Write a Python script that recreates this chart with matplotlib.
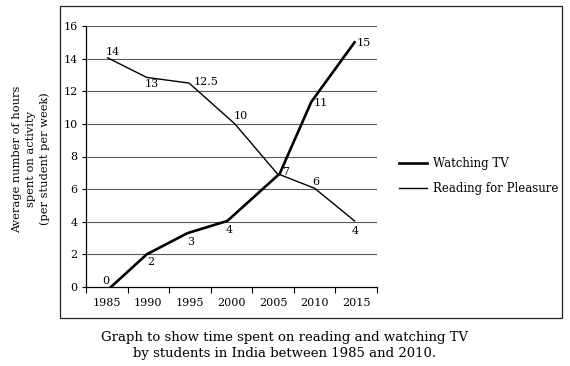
import matplotlib
matplotlib.use("Agg")
import matplotlib.pyplot as plt
from matplotlib.patches import Rectangle

years = [1985, 1990, 1995, 2000, 2005, 2010, 2015]
tv_x = [1985.5, 1989.8, 1994.7, 1999.5, 2005.8, 2009.6, 2014.8]
tv_values = [0, 2, 3.3, 4.05, 6.95, 11.35, 15]
tv_labels = ["0", "2", "3", "4", "7", "11", "15"]
read_x = [1985.1, 1989.8, 1994.9, 2000.4, 2005.5, 2010.0, 2014.8]
read_values = [14.05, 12.85, 12.5, 10.0, 6.95, 6.05, 4.05]
read_labels = ["14", "13", "12.5", "10", "", "6", "4"]
yticks = [0, 2, 4, 6, 8, 10, 12, 14, 16]

plt.rcParams['font.family'] = ['DejaVu Serif']
W, H = 570, 366
fig = plt.figure(figsize=(W / 100, H / 100), dpi=100)
fig.patch.set_facecolor('white')

# outer frame
fig.add_artist(Rectangle((60 / W, 1 - 318 / H), (562 - 60) / W, (318 - 6) / H,
                         transform=fig.transFigure, fill=False, edgecolor='#222222', lw=0.9))

ax = fig.add_axes([86 / W, 1 - 287 / H, (377 - 86) / W, (287 - 26) / H])
ax.set_xlim(1982.5, 2017.5)
ax.set_ylim(0, 16)
for v in yticks[1:]:
    ax.axhline(v, color='#5a5a5a', lw=0.8, zorder=1)

l1, = ax.plot(tv_x, tv_values, color='black', lw=1.9, zorder=3, label='Watching TV',
              solid_joinstyle='miter')
l2, = ax.plot(read_x, read_values, color='black', lw=1.0, zorder=3, label='Reading for Pleasure')

tv_off = [(-5, 6), (4, -8), (3, -9), (2, -9), (6, 2), (9, -1), (9, -1)]
rd_off = [(5, 6), (5, -7), (17, 1), (6, 8), (0, 0), (1, 6), (1, -10)]
for x, y, t, o in zip(tv_x, tv_values, tv_labels, tv_off):
    ax.annotate(t, (x, y), xytext=o, textcoords='offset pixels', ha='center', va='center', fontsize=8)
for x, y, t, o in zip(read_x, read_values, read_labels, rd_off):
    if t:
        ax.annotate(t, (x, y), xytext=o, textcoords='offset pixels', ha='center', va='center', fontsize=8)

for s in ['top', 'right']:
    ax.spines[s].set_visible(False)
for s in ['left', 'bottom']:
    ax.spines[s].set_linewidth(0.9)

bounds = [y - 2.5 for y in years] + [years[-1] + 2.5]
ax.set_xticks(bounds)
ax.set_xticklabels([])
ax.set_xticks(years, minor=True)
ax.set_xticklabels([str(y) for y in years], minor=True, fontsize=8)
ax.tick_params(axis='x', which='major', length=4, width=0.8, direction='out')
ax.tick_params(axis='x', which='minor', length=0, pad=8)
ax.set_yticks(yticks)
ax.set_yticklabels([str(v) for v in yticks], fontsize=8)
ax.tick_params(axis='y', length=3, width=0.8, pad=3)

fig.text(31 / W, 1 - 159 / H, "Average number of hours\nspent on activity\n(per student per week)",
         rotation=90, ha='center', va='center', fontsize=8.2, linespacing=1.5)

fig.legend(handles=[l1, l2], loc='center left', bbox_to_anchor=(388 / W, 1 - 176 / H),
           frameon=False, fontsize=8.5, handlelength=2.4, handletextpad=0.5, labelspacing=1.0)

fig.text(0.5, 1 - 337 / H, "Graph to show time spent on reading and watching TV",
         ha='center', va='center', fontsize=9.5)
fig.text(0.5, 1 - 354 / H, "by students in India between 1985 and 2010.",
         ha='center', va='center', fontsize=9.5)

fig.savefig('out.png', dpi=100)
